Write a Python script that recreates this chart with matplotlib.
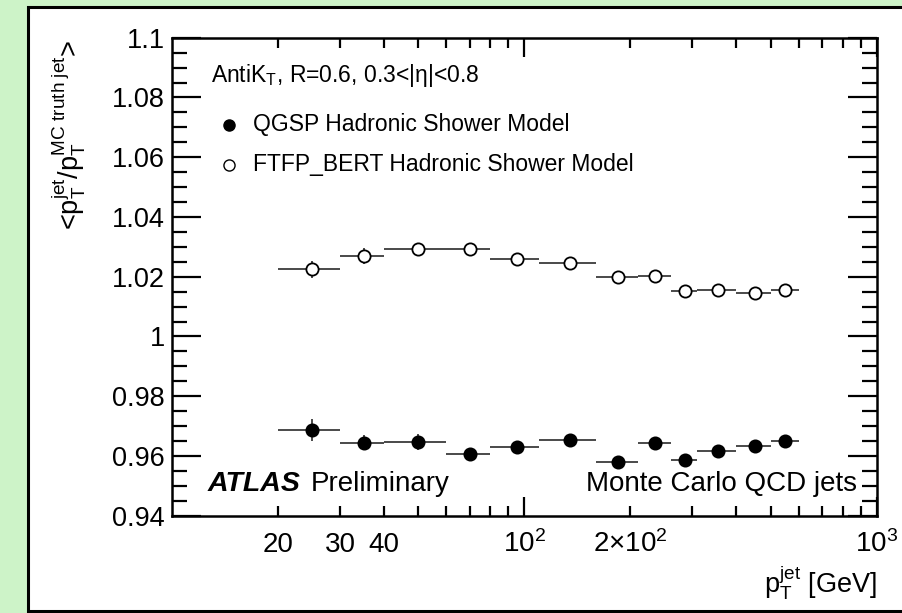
import numpy as np
import matplotlib
matplotlib.use('Agg')
import matplotlib.pyplot as plt
from matplotlib.patches import Rectangle
from matplotlib.ticker import FixedLocator, MultipleLocator, NullFormatter, FuncFormatter

plt.rcParams['font.family'] = ['Liberation Sans', 'DejaVu Sans']
plt.rcParams['mathtext.fontset'] = 'custom'
plt.rcParams['mathtext.rm'] = 'Liberation Sans'
plt.rcParams['mathtext.it'] = 'Liberation Sans:italic'
plt.rcParams['mathtext.bf'] = 'Liberation Sans:bold'

# pT bins (GeV) and bin centres
bin_lo = [20, 30, 40, 60, 80, 110, 160, 210, 260, 310, 400, 500]
bin_hi = [30, 40, 60, 80, 110, 160, 210, 260, 310, 400, 500, 600]
pt_mid = [25, 35, 50, 70, 95, 135, 185, 235, 285, 355, 450, 550]

# mean response per bin
qgsp = [0.9687, 0.9644, 0.9647, 0.9605, 0.9631, 0.9653,
        0.9580, 0.9644, 0.9586, 0.9617, 0.9633, 0.9650]
qgsp_err = [0.0037, 0.0025, 0.0028, 0.0015, 0.0013, 0.0012,
            0.0012, 0.0012, 0.0012, 0.0012, 0.0012, 0.0012]
ftfp = [1.0225, 1.0269, 1.0294, 1.0294, 1.0258, 1.0247,
        1.0198, 1.0201, 1.0152, 1.0154, 1.0145, 1.0154]
ftfp_err = [0.0028, 0.0028, 0.0020, 0.0015, 0.0013, 0.0012,
            0.0012, 0.0012, 0.0012, 0.0012, 0.0012, 0.0012]

xtick_vals = [20, 30, 40, 100, 200, 1000]
xtick_text = ['20', '30', '40', r'$\mathregular{10^{2}}$',
              r'$\mathregular{2{\times}10^{2}}$', r'$\mathregular{10^{3}}$']

W, H = 903, 613
fig = plt.figure(figsize=(W / 100, H / 100), dpi=100)
fig.patch.set_facecolor('#cdf3c8')

# white canvas with black border
fig.patches.append(Rectangle((28 / W, 1 - 611 / H), 1.0, (611 - 7) / H,
                             transform=fig.transFigure, facecolor='white',
                             edgecolor='black', linewidth=2.2, zorder=-1))

ax = fig.add_axes([172 / W, 1 - 515.7 / H, (876.7 - 172) / W, (515.7 - 37.7) / H])
ax.set_facecolor('none')
ax.set_zorder(1)

x = np.array(pt_mid)
xerr = [x - np.array(bin_lo), np.array(bin_hi) - x]

for y, yerr, face in [(qgsp, qgsp_err, 'black'), (ftfp, ftfp_err, 'white')]:
    ax.errorbar(x, y, xerr=xerr, yerr=yerr, fmt='o', ms=8.8, mfc=face,
                mec='black', mew=1.3, ecolor='#4a4a4a', elinewidth=1.4,
                capsize=0, zorder=3)

ax.set_xscale('log')
ax.set_xlim(10, 1000)
ax.set_ylim(0.94, 1.1)

ax.xaxis.set_major_locator(FixedLocator([100, 1000]))
ax.xaxis.set_minor_locator(FixedLocator([20, 30, 40, 50, 60, 70, 80, 90,
                                         200, 300, 400, 500, 600, 700, 800, 900]))
ax.xaxis.set_major_formatter(NullFormatter())
ax.xaxis.set_minor_formatter(NullFormatter())
ax.yaxis.set_major_locator(MultipleLocator(0.02))
ax.yaxis.set_minor_locator(MultipleLocator(0.005))
ax.yaxis.set_major_formatter(FuncFormatter(lambda v, p: '%g' % round(v, 3)))

ax.tick_params(which='both', direction='in', top=True, right=True, width=1.6)
ax.tick_params(axis='y', which='major', length=21, labelsize=19.5, pad=5)
ax.tick_params(axis='y', which='minor', length=11)
ax.tick_params(axis='x', which='major', length=14)
ax.tick_params(axis='x', which='minor', length=7)
for s in ax.spines.values():
    s.set_linewidth(1.8)

# x tick labels drawn on a common baseline
for v, t in zip(xtick_vals, xtick_text):
    ax.text(v, -0.0766, t, transform=ax.get_xaxis_transform(),
            ha='center', va='baseline', fontsize=20)

def fx(px):
    return px / W

def fy(py):
    return 1 - py / H

fig.text(fx(876.7), fy(593), r'$\mathregular{p_{T}^{jet}}$ [GeV]', ha='right',
         va='baseline', fontsize=19.5)
fig.text(fx(79), fy(40), r'<$\mathregular{p_{T}^{jet}/p_{T}^{MC\ truth\ jet}}$>',
         rotation=90, rotation_mode='anchor', ha='right', va='baseline', fontsize=19.5)

fig.text(fx(211), fy(81.7), r'AntiK$\mathregular{_{T}}$, R=0.6, 0.3<|η|<0.8',
         ha='left', va='baseline', fontsize=16.5)

# legend
fig.lines.append(plt.Line2D([fx(229)], [fy(125)], marker='o', ms=8, mfc='black',
                            mec='black', transform=fig.transFigure))
fig.lines.append(plt.Line2D([fx(229)], [fy(165)], marker='o', ms=8, mfc='white',
                            mec='black', mew=1.0, transform=fig.transFigure))
fig.text(fx(252.7), fy(130.5), 'QGSP Hadronic Shower Model', ha='left',
         va='baseline', fontsize=16.5)
fig.text(fx(252.7), fy(170.5), 'FTFP_BERT Hadronic Shower Model', ha='left',
         va='baseline', fontsize=16.5)

fig.text(fx(208), fy(490.7), 'ATLAS', ha='left', va='baseline', fontsize=20.5,
         fontweight='bold', fontstyle='italic')
fig.text(fx(311), fy(490.7), 'Preliminary', ha='left', va='baseline', fontsize=20)
fig.text(fx(856.7), fy(490.7), 'Monte Carlo QCD jets', ha='right', va='baseline',
         fontsize=20)

fig.savefig('out.png', dpi=100, facecolor=fig.get_facecolor())
